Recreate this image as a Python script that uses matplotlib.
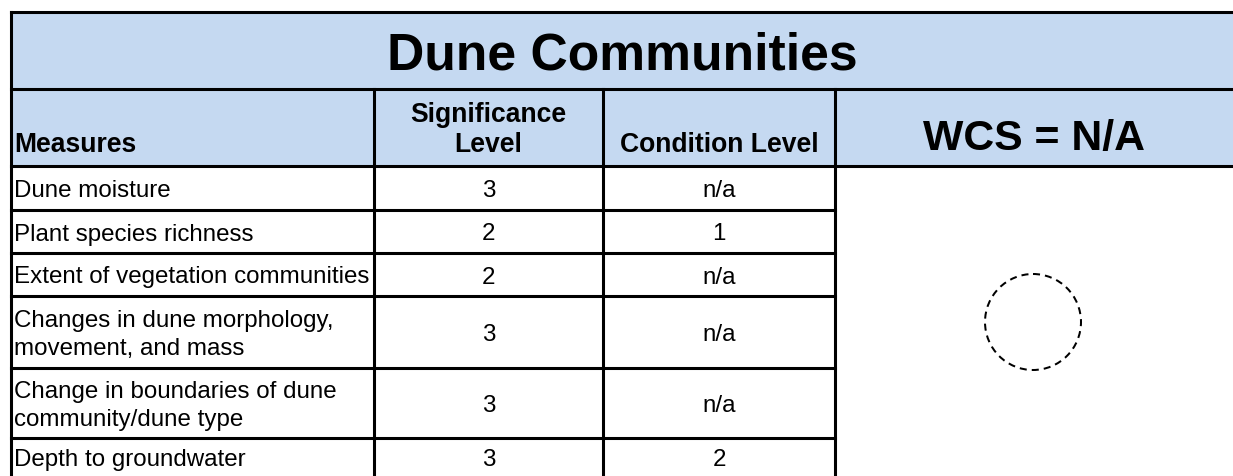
import matplotlib.pyplot as plt
from matplotlib.patches import Rectangle, Circle

plt.rcParams['font.family'] = ['Liberation Sans', 'DejaVu Sans']

title = "Dune Communities"
headers = ["Measures", "Significance\nLevel", "Condition Level"]
wcs_label = "WCS = N/A"
measures = ["Dune moisture",
            "Plant species richness",
            "Extent of vegetation communities",
            "Changes in dune morphology,\nmovement, and mass",
            "Change in boundaries of dune\ncommunity/dune type",
            "Depth to groundwater"]
significance = [3, 2, 2, 3, 3, 3]
condition = ["n/a", "1", "n/a", "n/a", "n/a", "2"]

W, H = 1233, 476
fig = plt.figure(figsize=(W / 100, H / 100), dpi=100)
ax = fig.add_axes([0, 0, 1, 1])
ax.set_xlim(0, W)
ax.set_ylim(H, 0)
ax.axis('off')

# layout in pixels
col_x = [11, 374, 603, 835, W]
top, title_bot, head_bot = 12, 89, 166
row_edges = [166, 210, 253, 296, 368, 438, 480]
blue = '#C5D9F1'
lw = 2.2

ax.add_patch(Rectangle((col_x[0], top), W - col_x[0], head_bot - top,
                       facecolor=blue, edgecolor='none', zorder=0))

def hline(y, x0, x1):
    ax.plot([x0, x1], [y, y], color='black', lw=lw, solid_capstyle='projecting')

def vline(x, y0, y1):
    ax.plot([x, x], [y0, y1], color='black', lw=lw, solid_capstyle='projecting')

hline(top, col_x[0], W + 5)
hline(title_bot, col_x[0], W + 5)
hline(head_bot, col_x[0], W + 5)
vline(col_x[0], top, H + 5)
for x in col_x[1:4]:
    vline(x, title_bot, H + 5)
for y in row_edges[1:-1]:
    hline(y, col_x[0], col_x[3])

# title
ax.text((col_x[0] + W) / 2, 69, title, fontsize=37.2, fontweight='bold',
        ha='center', va='baseline')

# header row
hs = 19.1
base = 152
ax.text(col_x[0] + 3, base, headers[0], fontsize=hs, fontweight='bold',
        ha='left', va='baseline')
sig_lines = headers[1].split("\n")
c2 = (col_x[1] + col_x[2]) / 2
c3 = (col_x[2] + col_x[3]) / 2
for i, s in enumerate(sig_lines):
    ax.text(c2, base - (len(sig_lines) - 1 - i) * 30.5, s, fontsize=hs,
            fontweight='bold', ha='center', va='baseline')
ax.text(c3, base, headers[2], fontsize=hs, fontweight='bold',
        ha='center', va='baseline')
ax.text((col_x[3] + W) / 2, 150, wcs_label, fontsize=30.8, fontweight='bold',
        ha='center', va='baseline')

# data rows
ds = 17.35
gap = 27.7
for r, (m, s, c) in enumerate(zip(measures, significance, condition)):
    y0, y1 = row_edges[r], min(row_edges[r + 1], H + 2)
    if r == len(measures) - 1:
        y1 = 476
    cy = (y0 + y1) / 2 + 9
    lines = m.split("\n")
    for i, t in enumerate(lines):
        ax.text(col_x[0] + 3, cy - (len(lines) - 1) * gap / 2 + i * gap, t,
                fontsize=ds, ha='left', va='baseline')
    ax.text(c2, cy, str(s), fontsize=ds, ha='center', va='baseline')
    ax.text(c3, cy, c, fontsize=ds, ha='center', va='baseline')

# empty status marker
ax.add_patch(Circle((1033, 322), 48, fill=False, edgecolor='black', lw=1.45,
                    linestyle=(0, (3.5, 2.5))))

fig.savefig('out.png', dpi=100)
